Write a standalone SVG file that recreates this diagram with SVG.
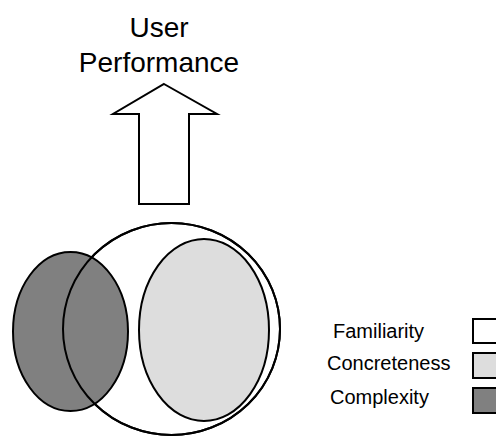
<svg xmlns="http://www.w3.org/2000/svg" width="496" height="436" viewBox="0 0 496 436">
<style>
.s{stroke:#000;stroke-width:2}
.t{font-family:"Liberation Sans",Arial,sans-serif;fill:#000}
</style>
<rect width="496" height="436" fill="#fff"/>
<g id="title">
<text class="t" x="159" y="37" font-size="28" text-anchor="middle">User</text>
<text class="t" x="159" y="72" font-size="28" text-anchor="middle">Performance</text>
</g>
<g id="arrow">
<polygon class="s" fill="#fff" points="164,84 217,114 189,114 189,204 139,204 139,114 113,114"/>
</g>
<g id="familiarity">
<ellipse class="s" fill="#fff" cx="171.5" cy="329" rx="108.5" ry="106"/>
</g>
<g id="concreteness">
<ellipse class="s" fill="#dddddd" cx="204" cy="330" rx="65" ry="91"/>
</g>
<g id="complexity">
<ellipse class="s" fill="#808080" cx="70.5" cy="331.5" rx="57.5" ry="79.5"/>
<ellipse class="s" fill="none" cx="171.5" cy="329" rx="108.5" ry="106"/>
</g>
<g id="legend">
<text class="t" x="333" y="338" font-size="20">Familiarity</text>
<rect class="s" fill="#fff" x="473" y="319" width="30" height="24"/>
<text class="t" x="327" y="370" font-size="20">Concreteness</text>
<rect class="s" fill="#dddddd" x="473" y="353" width="30" height="25"/>
<text class="t" x="330" y="404" font-size="20">Complexity</text>
<rect class="s" fill="#808080" x="473" y="388" width="30" height="25"/>
</g>
</svg>
